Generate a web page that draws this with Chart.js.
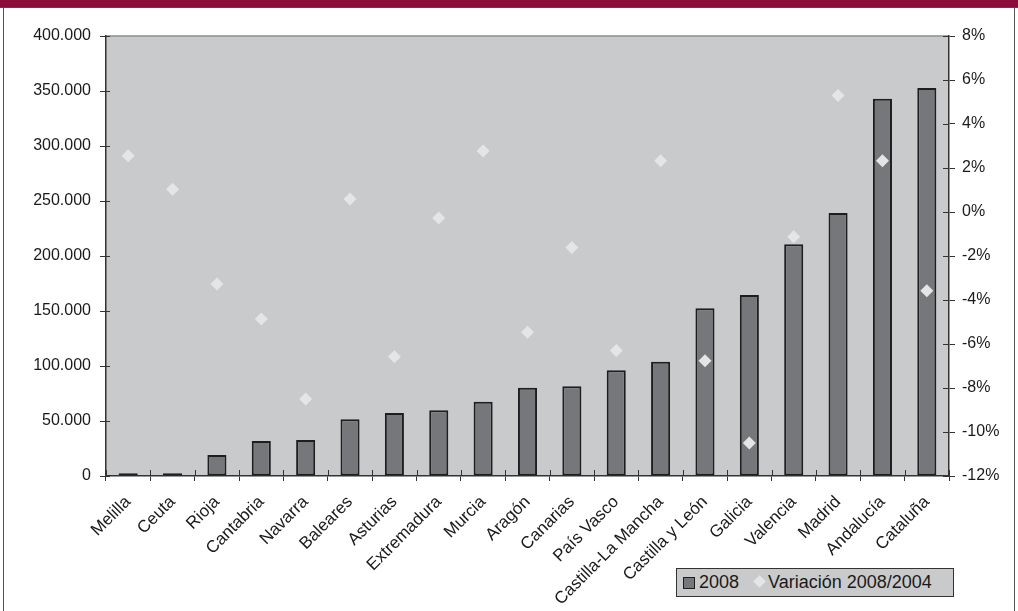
<!DOCTYPE html>
<html>
<head>
<meta charset="utf-8">
<script src="https://cdn.jsdelivr.net/npm/chart.js@4.4.1/dist/chart.umd.min.js"></script>
<style>
  body { margin: 0; background: #fff; font-family: "Liberation Sans", Arial, sans-serif; }
  #marco { position: absolute; left: 0; top: 0; width: 1018px; height: 611px; overflow: hidden; }
  #cabecera { position: absolute; left: 0; top: 0; width: 1018px; height: 7px; background: #8b0c3b; border-bottom: 1px solid #4a4a4a; }
  #bordeIzq { position: absolute; left: 3px; top: 8px; width: 1px; height: 603px; background: #555; }
  #bordeDer { position: absolute; left: 1014px; top: 8px; width: 1px; height: 603px; background: #555; }
  #lienzo { position: absolute; left: 0; top: 0; }
  #leyenda { position: absolute; left: 676px; top: 568px; width: 276px; height: 27px; background: #c9cacc;
             border: 1px solid #333; font-size: 18px; color: #1a1a1a; line-height: 27px; white-space: nowrap; }
  #leyenda .cuadro { position: absolute; left: 6px; top: 8px; width: 10px; height: 10px; background: #76777a; border: 1.5px solid #1e1e1e; }
  #leyenda .rombo { position: absolute; left: 78px; top: 8px; width: 9px; height: 9px; background: #e4e5e6; transform: rotate(45deg); }
</style>
</head>
<body>
<div id="marco">
  <div id="cabecera"></div>
  <div id="bordeIzq"></div>
  <div id="bordeDer"></div>
  <canvas id="GraficoComunidades" width="1018" height="611"></canvas>
  <div id="leyenda">
    <span class="cuadro"></span><span style="position:absolute;left:22px;">2008</span>
    <span class="rombo"></span><span style="position:absolute;left:91px;">Variación 2008/2004</span>
  </div>
</div>
<script>
var comunidades = ["Melilla", "Ceuta", "Rioja", "Cantabria", "Navarra", "Baleares", "Asturias", "Extremadura",
    "Murcia", "Aragón", "Canarias", "País Vasco", "Castilla-La Mancha", "Castilla y León", "Galicia",
    "Valencia", "Madrid", "Andalucía", "Cataluña"];

var valores2008 = [2500, 2500, 19100, 31800, 32700, 51500, 57300, 59700, 67500, 80300, 81500,
    96100, 103900, 152400, 164500, 210600, 239100, 343000, 352700];

var variacion = [2.56, 1.03, -3.27, -4.86, -8.5, 0.59, -6.58, -0.27, 2.77, -5.47, -1.61,
    -6.3, 2.33, -6.76, -10.5, -1.12, 5.29, 2.33, -3.58];

var fuente = { family: "'Liberation Sans', Arial, sans-serif", size: 16 };

function formatoMiles(v) {
    return String(v).replace(/\B(?=(\d{3})+(?!\d))/g, ".");
}

// fondo gris del area de trazado
var fondoArea = {
    id: "fondoArea",
    beforeDraw: function (chart) {
        var a = chart.chartArea, ctx = chart.ctx;
        ctx.save();
        ctx.fillStyle = "#c9cacc";
        ctx.fillRect(a.left, a.top, a.right - a.left, a.bottom - a.top);
        ctx.strokeStyle = "#8e8e8e";
        ctx.lineWidth = 1.5;
        ctx.beginPath();
        ctx.moveTo(a.left, a.top);
        ctx.lineTo(a.right, a.top);
        ctx.stroke();
        ctx.restore();
    },
    // marcas que cruzan el eje hacia dentro
    afterDraw: function (chart) {
        var ctx = chart.ctx, a = chart.chartArea;
        var sx = chart.scales.x, sy = chart.scales.y, sy1 = chart.scales.y1;
        ctx.save();
        ctx.strokeStyle = "#333";
        ctx.lineWidth = 1;
        ctx.beginPath();
        sy.ticks.forEach(function (t, i) {
            var py = Math.round(sy.getPixelForTick(i)) + 0.5;
            ctx.moveTo(a.left, py); ctx.lineTo(a.left + 4, py);
        });
        sy1.ticks.forEach(function (t, i) {
            var py = Math.round(sy1.getPixelForTick(i)) + 0.5;
            ctx.moveTo(a.right, py); ctx.lineTo(a.right - 6, py);
        });
        for (var i = 0; i <= comunidades.length; i++) {
            var px = Math.round(sx.getPixelForValue(i - 0.5)) + 0.5;
            ctx.moveTo(px, a.bottom); ctx.lineTo(px, a.bottom - 6);
        }
        ctx.stroke();
        ctx.restore();
    }
};

var ctx = document.getElementById("GraficoComunidades").getContext("2d");
var grafico = new Chart(ctx, {
    type: "bar",
    data: {
        labels: comunidades,
        datasets: [{
            type: "line",
            label: "Variación 2008/2004",
            data: variacion,
            yAxisID: "y1",
            showLine: false,
            pointStyle: "rectRot",
            pointRadius: 6.5,
            pointBackgroundColor: "#e4e5e6",
            pointBorderColor: "#e4e5e6",
            pointBorderWidth: 0,
            order: 0
        }, {
            label: "2008",
            data: valores2008,
            yAxisID: "y",
            backgroundColor: "#76777a",
            borderColor: "#1e1e1e",
            borderWidth: 2,
            borderSkipped: false,
            categoryPercentage: 1,
            barPercentage: 0.43,
            order: 1
        }]
    },
    options: {
        responsive: false,
        animation: false,
        layout: { padding: { top: 36, left: 0, right: 0, bottom: 0 } },
        plugins: {
            legend: { display: false },
            tooltip: { enabled: false }
        },
        scales: {
            x: {
                grid: { offset: true, drawOnChartArea: false, tickLength: 5, tickColor: "#333" },
                border: { color: "#333", width: 1.5 },
                ticks: { color: "#1a1a1a", font: { family: fuente.family, size: 17 }, minRotation: 45, maxRotation: 45, autoSkip: false, padding: 11 },
                afterFit: function (s) { s.height = 135; }
            },
            y: {
                position: "left",
                min: 0,
                max: 400000,
                grid: { drawOnChartArea: false, tickLength: 6, tickColor: "#333" },
                border: { color: "#333", width: 1.5 },
                ticks: { stepSize: 50000, color: "#1a1a1a", font: fuente, padding: 9, callback: function (v) { return formatoMiles(v); } },
                afterFit: function (s) { s.width = 106; }
            },
            y1: {
                position: "right",
                min: -12,
                max: 8,
                grid: { drawOnChartArea: false, tickLength: 6, tickColor: "#333" },
                border: { color: "#333", width: 1.5 },
                ticks: { stepSize: 2, color: "#1a1a1a", font: fuente, padding: 7, callback: function (v) { return v + "%"; } },
                afterFit: function (s) { s.width = 69; }
            }
        }
    },
    plugins: [fondoArea]
});
</script>
</body>
</html>
